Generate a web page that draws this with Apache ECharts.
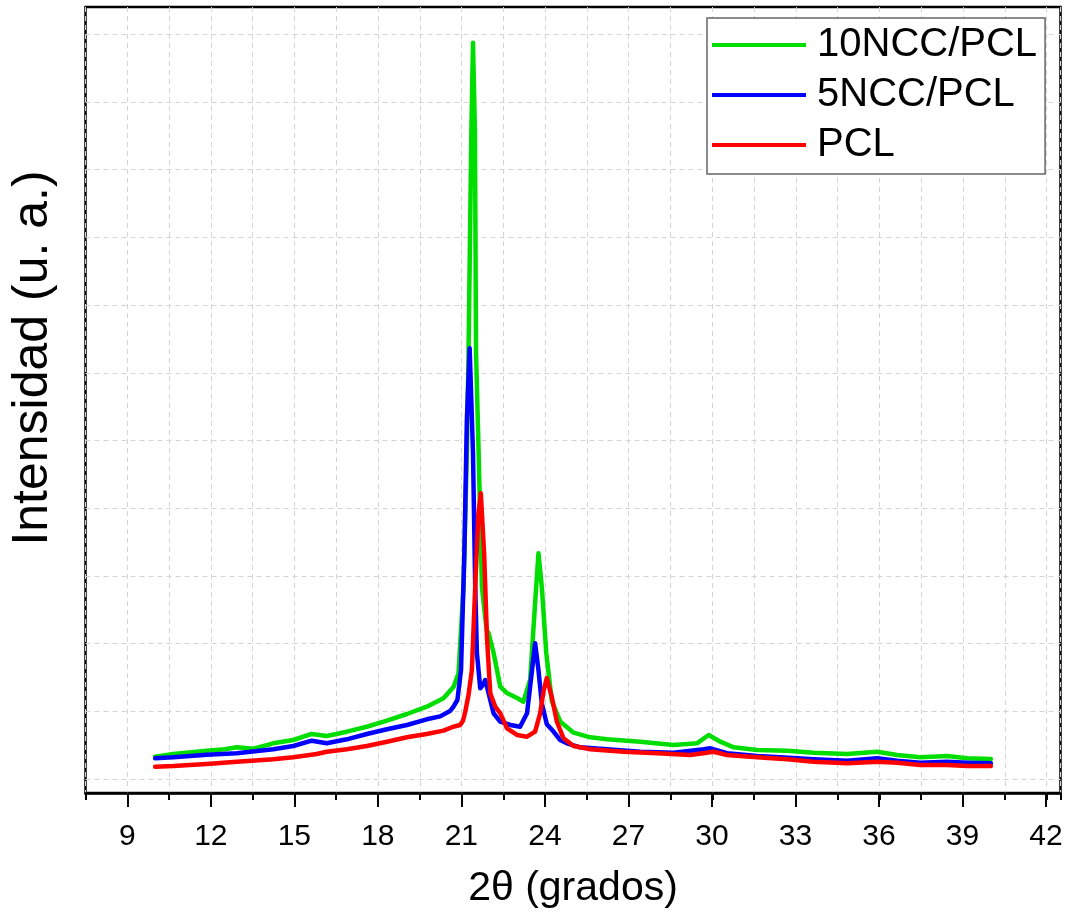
<!DOCTYPE html>
<html><head><meta charset="utf-8">
<script src="https://cdn.jsdelivr.net/npm/echarts@6/dist/echarts.min.js"></script>
<style>html,body{margin:0;padding:0;background:#fff}#c{width:1070px;height:920px}</style>
</head><body><div id="c"></div>
<script>
const seriesNames = ['10NCC/PCL', '5NCC/PCL', 'PCL'];
const seriesColors = ['#00dd00', '#0000ff', '#ff0000'];
const xMajorTicks = [9, 12, 15, 18, 21, 24, 27, 30, 33, 36, 39, 42];

const green_x = [10, 10.65, 11.85, 12.5, 12.93, 13.53, 14.24, 14.96, 15.62, 16.16, 16.88, 17.6, 18.32, 19.04, 19.75, 20.35, 20.71, 20.89, 21.07, 21.19, 21.25, 21.35, 21.41, 21.48, 21.52, 21.61, 21.73, 21.9, 21.97, 22.15, 22.39, 22.63, 22.99, 23.22, 23.46, 23.64, 23.76, 23.88, 24.04, 24.24, 24.54, 25.02, 25.62, 26.22, 27.42, 28.61, 29.45, 29.87, 30.29, 30.77, 31.61, 32.69, 33.64, 34.84, 35.92, 36.64, 37.47, 38.43, 39.15, 40];
const green_y = [329, 369, 418, 440, 468, 448, 527, 576, 665, 635, 699, 772, 861, 960, 1068, 1192, 1360, 1560, 2840, 4815, 6292, 9541, 10875, 9541, 6292, 4860, 2840, 2201, 2156, 1861, 1363, 1270, 1196, 1142, 1462, 2600, 3334, 2840, 1861, 1150, 850, 684, 616, 586, 551, 502, 527, 650, 551, 468, 428, 418, 388, 369, 403, 354, 320, 340, 306, 295];

const blue_x = [10, 10.65, 11.85, 12.93, 14.24, 14.96, 15.62, 16.16, 16.88, 17.6, 18.32, 19.04, 19.75, 20.23, 20.6, 20.71, 20.85, 20.98, 21.1, 21.19, 21.29, 21.41, 21.49, 21.55, 21.67, 21.78, 21.85, 21.97, 22.15, 22.39, 22.75, 23.1, 23.35, 23.53, 23.64, 23.76, 23.88, 24.06, 24.3, 24.54, 24.78, 25.26, 26.22, 27.42, 28.61, 29.69, 29.93, 30.53, 31.61, 32.44, 33.64, 34.84, 35.92, 36.64, 37.47, 38.43, 39.15, 40];
const blue_y = [306, 320, 359, 380, 439, 487, 566, 527, 586, 665, 734, 798, 882, 925, 1009, 1068, 1167, 1610, 3338, 5303, 6362, 4815, 2840, 1861, 1340, 1400, 1462, 1266, 970, 846, 798, 772, 970, 1610, 2004, 1610, 1118, 810, 700, 576, 527, 468, 439, 403, 388, 439, 453, 380, 340, 320, 291, 270, 306, 270, 241, 255, 241, 232];

const red_x = [10, 10.65, 11.85, 12.93, 14.24, 14.96, 15.8, 16.16, 16.88, 17.6, 18.32, 19.04, 19.75, 20.35, 20.7, 20.95, 21.05, 21.13, 21.25, 21.37, 21.49, 21.6, 21.69, 21.81, 21.91, 22.03, 22.21, 22.39, 22.63, 22.99, 23.35, 23.64, 23.82, 23.95, 24.06, 24.24, 24.42, 24.66, 25.02, 25.62, 26.82, 28.02, 29.21, 30.05, 30.53, 31.61, 32.69, 33.64, 34.84, 35.92, 36.64, 37.47, 38.43, 39.15, 40];
const red_y = [182, 192, 222, 256, 291, 320, 369, 403, 439, 487, 551, 616, 665, 715, 772, 798, 860, 990, 1240, 1610, 2840, 3900, 4220, 3334, 2102, 1266, 1068, 970, 749, 650, 625, 699, 970, 1315, 1490, 1210, 850, 601, 487, 439, 403, 380, 354, 403, 354, 320, 291, 256, 232, 256, 241, 207, 207, 192, 192];

const xs = [green_x, blue_x, red_x];
const ys = [green_y, blue_y, red_y];

const sans = "'Liberation Sans', Arial, sans-serif";
const dashed = { color: '#d4d4d4', width: 1, type: [5, 4] };

const chart = echarts.init(document.getElementById('c'), null, { renderer: 'canvas' });
chart.setOption({
  animation: false,
  backgroundColor: '#ffffff',
  grid: [
    { left: 85.5, right: 9.5, top: 7, bottom: 127, show: true, borderColor: '#000', borderWidth: 2.5, backgroundColor: 'transparent', containLabel: false, outerBoundsMode: 'none' },
    { left: 85.5, right: 9.5, top: 34.3, bottom: 141, containLabel: false, outerBoundsMode: 'none' },
    { left: 85.5, right: 9.5, top: 7, bottom: 211, containLabel: false, outerBoundsMode: 'none' },
    { left: 127.3, right: 24, top: 7, bottom: 127, containLabel: false, outerBoundsMode: 'none' }
  ],
  xAxis: [
    { type: 'value', gridIndex: 0, min: 7.5, max: 42.5, interval: 1.5,
      axisLine: { show: true, lineStyle: { color: '#000', width: 2.5 } },
      axisTick: { show: true, length: 7, lineStyle: { color: '#000', width: 2 } },
      axisLabel: { show: false },
      splitLine: { show: true, lineStyle: dashed },
      name: '2θ (grados)', nameLocation: 'middle', nameGap: 75,
      nameTextStyle: { fontSize: 41, fontFamily: sans, color: '#000' } },
    { type: 'value', gridIndex: 1, min: 7.5, max: 42.5, show: false },
    { type: 'value', gridIndex: 2, min: 7.5, max: 42.5, show: false },
    { type: 'value', gridIndex: 3, min: xMajorTicks[0], max: xMajorTicks[xMajorTicks.length - 1], interval: 3,
      axisLine: { show: false },
      axisTick: { show: true, length: 14, lineStyle: { color: '#000', width: 2 } },
      axisLabel: { show: true, fontSize: 30, fontFamily: sans, color: '#000', margin: 29 },
      splitLine: { show: false } }
  ],
  yAxis: [
    { type: 'value', gridIndex: 0, min: 0, max: 1, show: false },
    { type: 'value', gridIndex: 1, min: 0, max: 11000, interval: 1000,
      axisLine: { show: false }, axisTick: { show: false }, axisLabel: { show: false },
      splitLine: { show: true, lineStyle: dashed } },
    { type: 'value', gridIndex: 2, min: 0, max: 1,
      axisLine: { show: false }, axisTick: { show: false }, axisLabel: { show: false }, splitLine: { show: false },
      name: 'Intensidad (u. a.)', nameLocation: 'middle', nameGap: 27, nameRotate: 90,
      nameTextStyle: { fontSize: 50, fontFamily: sans, color: '#000' } },
    { type: 'value', gridIndex: 3, min: 0, max: 1, show: false }
  ],
  legend: {
    orient: 'vertical', left: 707, top: 18,
    padding: [6, 8, 8, 5], itemGap: 8, itemWidth: 94, itemHeight: 4, icon: 'rect',
    borderColor: '#666', borderWidth: 1.5, backgroundColor: '#fff',
    selectedMode: false,
    textStyle: { fontSize: 40, fontFamily: sans, color: '#000', lineHeight: 42, padding: [0, 0, 0, 6] },
    data: seriesNames
  },
  series: seriesNames.map((n, k) => ({
    name: n, type: 'line', xAxisIndex: 1, yAxisIndex: 1,
    showSymbol: false, symbol: 'none', smooth: false,
    color: seriesColors[k],
    lineStyle: { color: seriesColors[k], width: 4.5, join: 'round', cap: 'round' },
    data: xs[k].map((x, i) => [x, ys[k][i]])
  }))
});
</script>
</body></html>
